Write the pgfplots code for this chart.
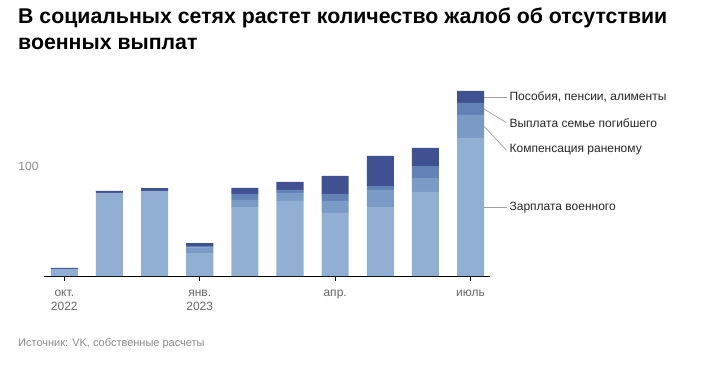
\documentclass[border=0pt]{standalone}
\usepackage{pgfplots}
\pgfplotsset{compat=1.18}
\usepackage{fontspec}
\setmainfont{Liberation Sans}
\definecolor{cSal}{HTML}{91AFD3}
\definecolor{cKomp}{HTML}{7A9BC5}
\definecolor{cVyp}{HTML}{6281B5}
\definecolor{cPos}{HTML}{3F5190}
\definecolor{tickgray}{HTML}{666666}
\definecolor{srcgray}{HTML}{8A8A8A}
\definecolor{leadgray}{HTML}{A0A0A0}
\tikzset{lbl/.style={anchor=west, inner sep=0pt, text=black!85, font=\fontsize{12}{14}\selectfont}}
\begin{document}
\begin{tikzpicture}
\path[use as bounding box] (0,0) rectangle (705pt,365pt);
\node[anchor=north west, align=left, font=\fontsize{21.3}{26}\selectfont\bfseries, inner sep=0pt] at (18pt,357pt) {В социальных сетях растет количество жалоб об отсутствии\\военных выплат};
\node[anchor=west, font=\fontsize{11}{13}\selectfont, text=srcgray, inner sep=0pt] at (18pt,21pt) {Источник: VK, собственные расчеты};
\begin{axis}[
  at={(44pt,89pt)}, anchor=south west,
  width=446pt, height=198pt, scale only axis,
  xmin=-0.45, xmax=9.43, ymin=0, ymax=180,
  ybar stacked, bar width=0.6,
  clip=false,
  axis x line*=bottom, axis y line*=left,
  axis line style={-},
  y axis line style={draw=none},
  x axis line style={black, line width=1pt},
  ytick={100}, yticklabels={100},
  ytick style={draw=none},
  yticklabel style={text=srcgray, font=\fontsize{12}{14}\selectfont, xshift=-2pt},
  xtick={0,3,6,9},
  xticklabels={{окт.\\2022},{янв.\\2023},{апр.},{июль}},
  xticklabel style={align=center, text=tickgray, font=\fontsize{12}{14}\selectfont, anchor=north, yshift=-11pt},
  xtick style={draw=none},
]
\addplot[fill=cSal, draw=none] coordinates {(0,6.5) (1,75.5) (2,77.3) (3,20.9) (4,62.7) (5,68.2) (6,57.3) (7,62.7) (8,76.4) (9,125.5)};
\addplot[fill=cKomp, draw=none] coordinates {(0,0) (1,0) (2,0) (3,4.8) (4,6.4) (5,7.3) (6,10.9) (7,15.5) (8,12.7) (9,20.9)};
\addplot[fill=cVyp, draw=none] coordinates {(0,0) (1,0) (2,0) (3,1.5) (4,5.5) (5,2.7) (6,6.4) (7,3.6) (8,10.9) (9,10.9)};
\addplot[fill=cPos, draw=none] coordinates {(0,1.0) (1,1.8) (2,2.7) (3,2.7) (4,5.5) (5,7.3) (6,16.4) (7,27.3) (8,16.4) (9,10.9)};
\draw[black, line width=1pt] (axis cs:-0.45,0) -- (axis cs:9.43,0);
\draw[black, line width=1pt] (axis cs:0,0) -- ([yshift=-5pt]axis cs:0,0);
\draw[black, line width=1pt] (axis cs:3,0) -- ([yshift=-5pt]axis cs:3,0);
\draw[black, line width=1pt] (axis cs:6,0) -- ([yshift=-5pt]axis cs:6,0);
\draw[black, line width=1pt] (axis cs:9,0) -- ([yshift=-5pt]axis cs:9,0);
\draw[leadgray, line width=0.7pt] (axis cs:9.3,162.7) -- (axis cs:9.81,162.7);
\draw[leadgray, line width=0.7pt] (axis cs:9.3,151.8) -- (axis cs:9.79,139.4);
\draw[leadgray, line width=0.7pt] (axis cs:9.3,136.0) -- (axis cs:9.79,114.5);
\draw[leadgray, line width=0.7pt] (axis cs:9.3,62.0) -- (axis cs:9.81,62.0);
\node[lbl] at (axis cs:9.86,162.7) {Пособия, пенсии, алименты};
\node[lbl] at (axis cs:9.86,139.4) {Выплата семье погибшего};
\node[lbl] at (axis cs:9.86,114.5) {Компенсация раненому};
\node[lbl] at (axis cs:9.86,62.0) {Зарплата военного};
\end{axis}
\end{tikzpicture}
\end{document}
